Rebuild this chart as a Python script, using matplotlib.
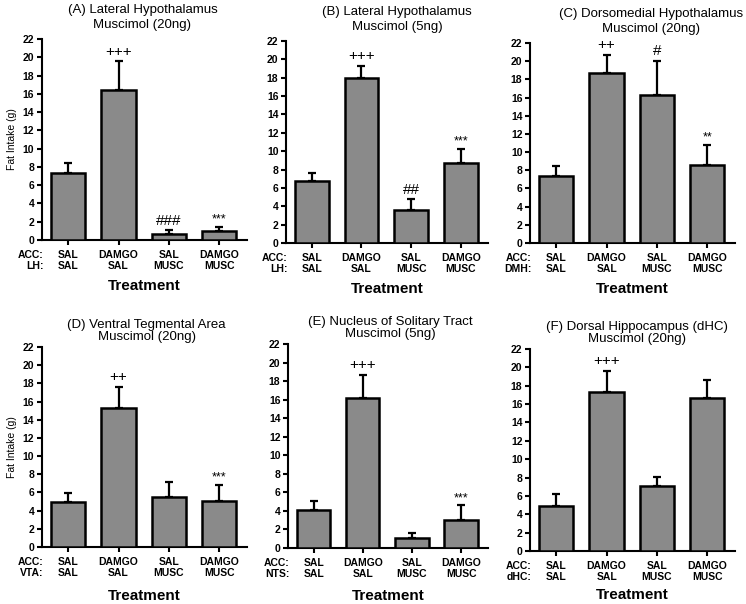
import numpy as np
import matplotlib
matplotlib.use("Agg")
import matplotlib.pyplot as plt

plt.rcParams['font.family'] = ['Liberation Sans', 'DejaVu Sans']

# data (mean fat intake, g, and upper error)
titles = [
    "(A) Lateral Hypothalamus\nMuscimol (20ng)",
    "(B) Lateral Hypothalamus\nMuscimol (5ng)",
    "(C) Dorsomedial Hypothalamus\nMuscimol (20ng)",
    "(D) Ventral Tegmental Area\nMuscimol (20ng)",
    "(E) Nucleus of Solitary Tract\nMuscimol (5ng)",
    "(F) Dorsal Hippocampus (dHC)\nMuscimol (20ng)",
]
sites = ["LH", "LH", "DMH", "VTA", "NTS", "dHC"]
groups = ["SAL\nSAL", "DAMGO\nSAL", "SAL\nMUSC", "DAMGO\nMUSC"]

means_a = [7.3, 16.4, 0.66, 1.0]
sem_a = [1.15, 3.15, 0.4, 0.46]
means_b = [6.73, 18.0, 3.64, 8.73]
sem_b = [0.91, 1.3, 1.12, 1.52]
means_c = [7.38, 18.7, 16.26, 8.55]
sem_c = [1.1, 2.0, 3.74, 2.23]
means_d = [4.99, 15.25, 5.54, 5.02]
sem_d = [0.91, 2.35, 1.61, 1.84]
means_e = [4.1, 16.2, 1.08, 2.99]
sem_e = [0.98, 2.5, 0.5, 1.61]
means_f = [4.88, 17.3, 7.07, 16.65]
sem_f = [1.31, 2.3, 1.02, 2.0]

sig_a = ["", "+++", "###", "***"]
sig_b = ["", "+++", "##", "***"]
sig_c = ["", "++", "#", "**"]
sig_d = ["", "++", "", "***"]
sig_e = ["", "+++", "", "***"]
sig_f = ["", "+++", "", ""]

all_means = [means_a, means_b, means_c, means_d, means_e, means_f]
all_sems = [sem_a, sem_b, sem_c, sem_d, sem_e, sem_f]
all_sigs = [sig_a, sig_b, sig_c, sig_d, sig_e, sig_f]

# axes rectangles in figure fraction
rects = [
    [0.0563, 0.6026, 0.2748, 0.3328],
    [0.3834, 0.5977, 0.2708, 0.3344],
    [0.7105, 0.5977, 0.2748, 0.3311],
    [0.0563, 0.0944, 0.2748, 0.3311],
    [0.3861, 0.0927, 0.2681, 0.3377],
    [0.7105, 0.0877, 0.2748, 0.3344],
]
title_x = [0.49, 0.55, 0.59, 0.51, 0.51, 0.52]
xlab_pad = [6, 6, 6, 8, 7.5, 4.5]

fig = plt.figure(figsize=(7.46, 6.04), dpi=100)

for i in range(6):
    ax = fig.add_axes(rects[i])
    x = np.arange(4)
    m = all_means[i]
    s = all_sems[i]
    ax.errorbar(x, m, yerr=[np.zeros(4), s], fmt='none', ecolor='black',
                elinewidth=1.6, capsize=2.6, capthick=1.6, zorder=2)
    ax.bar(x, m, width=0.68, color='#8a8a8a', edgecolor='black',
           linewidth=1.8, zorder=3)

    for k in range(4):
        lab = all_sigs[i][k]
        if lab:
            star = lab.startswith('*')
            ax.annotate(lab, xy=(x[k], m[k] + s[k]),
                        xytext=(0, 1 if star else 2), textcoords='offset points',
                        ha='center', va='bottom', fontsize=9 if star else 11)

    ax.set_xlim(-0.52, 3.55)
    ax.set_ylim(0, 22)
    ax.set_yticks(np.arange(0, 23, 2))
    ax.set_xticks(x)
    ax.set_xticklabels(groups, fontsize=7.5, fontweight='bold', linespacing=1.05)
    for lab in ax.get_yticklabels():
        lab.set_fontweight('bold')
        lab.set_fontsize(7.5)
    ax.spines['top'].set_visible(False)
    ax.spines['right'].set_visible(False)
    ax.spines['left'].set_linewidth(1.5)
    ax.spines['bottom'].set_linewidth(1.5)
    ax.tick_params(axis='both', length=3.5, width=1.5, pad=2)
    ax.tick_params(axis='x', pad=4)

    ax.annotate("ACC:\n" + sites[i] + ":", xy=(0, 0), xycoords='axes fraction',
                xytext=(1, -7.5), textcoords='offset points', ha='right', va='top',
                fontsize=7.5, fontweight='bold', linespacing=1.05,
                multialignment='right')

    ax.set_xlabel("Treatment", fontsize=11, fontweight='bold',
                  labelpad=xlab_pad[i])
    ax.set_title(titles[i], fontsize=9.5, x=title_x[i],
                 pad=8 if i < 3 else 5,
                 linespacing=1.3 if i < 3 else 1.05)
    if i in (0, 3):
        ax.set_ylabel("Fat Intake (g)", fontsize=7.5, labelpad=4)

fig.savefig("out.png", dpi=100)
